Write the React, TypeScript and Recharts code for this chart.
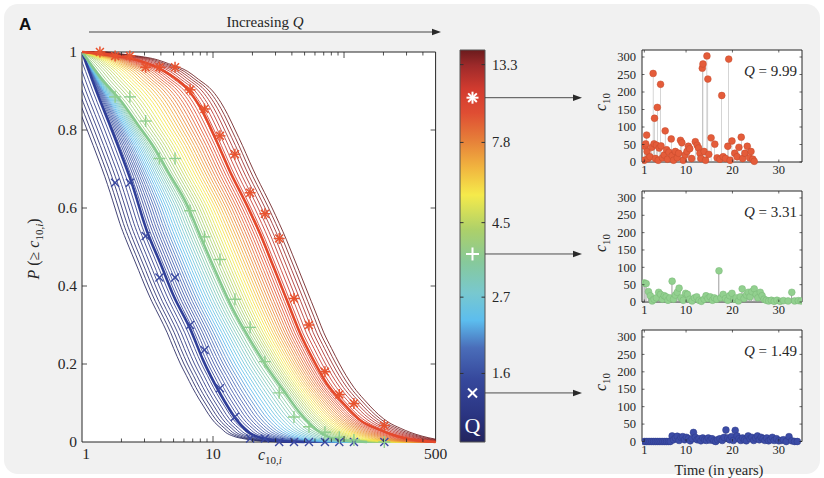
import React from 'react';
import {
  ComposedChart, Line, Scatter, Bar, XAxis, YAxis, CartesianGrid, ReferenceArea, Label,
} from 'recharts';

const SERIF = '"Liberation Serif", "DejaVu Serif", serif';
const INK = '#262626';

// ---- main panel: fitted CCDF curves for the three highlighted Q values ----
const lowCurveX = [1, 1.32, 1.67, 2.0, 2.38, 3.1, 4.0, 5.0, 6.7, 8.4, 11.3, 15.2, 20.2, 30, 50];
const lowCurveP = [1, 0.89, 0.804, 0.736, 0.667, 0.545, 0.455, 0.375, 0.29, 0.21, 0.125, 0.056, 0.018, 0.004, 0];
const midCurveX = [1, 1.4, 2.0, 2.68, 3.59, 4.53, 6.3, 7.95, 10.7, 14.3, 19.2, 25.7, 34.4, 46.2, 62, 93, 150];
const midCurveP = [1, 0.933, 0.873, 0.813, 0.753, 0.693, 0.61, 0.53, 0.43, 0.338, 0.262, 0.193, 0.133, 0.074, 0.031, 0.005, 0];
const highCurveX = [1, 2.25, 4.03, 6.3, 7.95, 10.7, 13.5, 18.1, 22.8, 28.9, 36.6, 46.2, 58.4, 73.8, 98.8, 133, 188, 237, 350, 500];
const highCurveP = [1, 0.985, 0.955, 0.907, 0.86, 0.77, 0.693, 0.608, 0.535, 0.45, 0.364, 0.279, 0.21, 0.15, 0.099, 0.056, 0.031, 0.018, 0.005, 0];

// empirical CCDF markers (shared bins)
const markerX = [1.37, 1.79, 2.32, 3.06, 3.9, 5.13, 6.68, 8.6, 11.3, 14.7, 19.2, 24.9, 32, 41.5, 54, 71.5, 92, 119, 203];
const highMarkerP = [1, 0.99, 0.99, 0.961, 0.961, 0.961, 0.903, 0.854, 0.785, 0.738, 0.639, 0.585, 0.522, 0.368, 0.3, 0.18, 0.122, 0.099, 0.042];
const midMarkerP = [null, 0.885, 0.885, 0.823, 0.727, 0.727, 0.593, 0.526, 0.468, 0.366, 0.294, 0.206, 0.126, 0.064, 0.039, 0.025, 0.012, 0.005, 0];
const lowMarkerP = [null, 0.665, 0.665, 0.528, 0.422, 0.422, 0.3, 0.236, 0.138, 0.065, 0.009, 0.009, 0, 0, 0, 0, 0, 0, 0];

const mainXTicks = [1, 2, 3, 4, 5, 6, 7, 8, 9, 10, 20, 30, 40, 50, 60, 70, 80, 90, 100, 200, 300, 400, 500];
const mainXLabels = [1, 10, 500];
const mainYTicks = [0, 0.2, 0.4, 0.6, 0.8, 1];

// ---- colour bar ----
const colorbarDomain = [1, 14.7];
const colorbarTicks = [1.6, 2.7, 4.5, 7.8, 13.3];
const highlightQ = [10.6, 3.63, 1.4]; // where the three markers sit on the bar
const highlightLabels = ['9.99', '3.31', '1.49'];
const colorStops: [number, string][] = [
  [0.0, '#22245e'], [0.07, '#2b3582'], [0.16, '#36489c'], [0.24, '#4a6db9'],
  [0.31, '#5cbdee'], [0.38, '#78c8cf'], [0.46, '#87c99a'], [0.54, '#acd06a'],
  [0.63, '#f5ea4b'], [0.7, '#f1b53f'], [0.77, '#e67f39'], [0.84, '#df4d33'],
  [0.9, '#d23b2f'], [0.96, '#9e2a2a'], [1.0, '#6b1b1d'],
];
const familySize = 57; // thin curves drawn between the highlighted ones

// ---- c10 time series (year, count) ----
const stemsHigh: [number, number][] = [
  [1.0, 5], [1.1, 45], [1.3, 52], [1.5, 77], [1.6, 30], [1.8, 10], [2.2, 15], [2.6, 42], [2.9, 253],
  [3.1, 52], [3.2, 125], [3.4, 10], [3.6, 48], [3.8, 156], [4.0, 5], [4.2, 40], [4.5, 222], [4.6, 46],
  [4.9, 12], [5.3, 20], [5.5, 89], [5.8, 35], [6.0, 8], [6.3, 28], [6.8, 66], [7.0, 18], [7.3, 5],
  [7.7, 30], [8.1, 12], [8.4, 25], [8.8, 62], [9.1, 55], [9.4, 5], [9.8, 20], [10.2, 30], [10.5, 45],
  [10.8, 38], [11.2, 10], [12.0, 58], [12.4, 48], [12.7, 40], [13.0, 25], [13.2, 10], [13.5, 268],
  [13.65, 280], [13.9, 30], [14.2, 5], [14.5, 303], [14.7, 237], [14.9, 22], [15.4, 69], [16.2, 51],
  [16.7, 12], [17.3, 8], [17.7, 190], [18.0, 15], [18.5, 10], [19.0, 45], [19.2, 294], [19.5, 5],
  [19.9, 60], [20.5, 25], [21.0, 15], [21.4, 42], [21.9, 71], [22.2, 10], [22.7, 25], [23.2, 45],
  [23.7, 12], [24.0, 30], [24.4, 8], [24.7, 2],
];
const stemsMid: [number, number][] = [
  [1.0, 55], [1.4, 53], [1.9, 30], [2.3, 18], [2.7, 3], [3.1, 8], [3.6, 12], [4.1, 28], [4.5, 22],
  [4.9, 8], [5.3, 18], [5.7, 15], [6.1, 5], [6.5, 12], [7.0, 60], [7.3, 8], [7.7, 20], [8.1, 28],
  [8.5, 40], [8.9, 12], [9.4, 5], [9.9, 25], [10.3, 22], [10.8, 8], [11.3, 3], [11.8, 12], [12.3, 15],
  [12.8, 5], [13.3, 2], [13.9, 8], [14.3, 18], [14.7, 10], [15.2, 15], [15.7, 5], [16.1, 12], [16.6, 8],
  [17.1, 90], [17.5, 12], [18.0, 22], [18.5, 10], [19.0, 5], [19.4, 18], [19.9, 25], [20.3, 8],
  [20.8, 12], [21.3, 3], [21.7, 15], [22.1, 38], [22.5, 10], [23.0, 20], [23.4, 28], [23.8, 15],
  [24.2, 30], [24.7, 38], [25.1, 22], [25.5, 12], [26.0, 28], [26.4, 18], [26.8, 8], [27.3, 5],
  [27.8, 3], [28.4, 5], [29.0, 2], [29.6, 5], [30.3, 2], [31.0, 4], [32.0, 3], [32.8, 28], [33.4, 3],
  [34.2, 4], [34.8, 3],
];
const stemsLow: [number, number][] = [
  [1.0, 0], [1.4, 0], [1.8, 0], [2.2, 0], [2.6, 0], [3.0, 0], [3.4, 0], [3.8, 0], [4.2, 0], [4.6, 0],
  [5.0, 0], [5.4, 0], [5.8, 0], [6.2, 0], [6.6, 0], [7.0, 16], [7.3, 5], [7.7, 10], [8.1, 15], [8.5, 3],
  [8.9, 12], [9.3, 14], [9.7, 5], [10.1, 12], [10.5, 8], [10.9, 2], [11.3, 8], [11.6, 26], [12.0, 12],
  [12.4, 5], [12.8, 8], [13.2, 2], [13.6, 10], [14.0, 5], [14.4, 3], [14.8, 10], [15.2, 4], [15.6, 8],
  [16.0, 2], [16.4, 0], [16.8, 5], [17.3, 8], [17.8, 3], [18.2, 12], [18.6, 33], [19.0, 10], [19.4, 5],
  [19.8, 14], [20.2, 3], [20.6, 32], [21.0, 16], [21.4, 8], [21.8, 3], [22.2, 10], [22.6, 5], [23.0, 2],
  [23.4, 16], [23.8, 8], [24.2, 12], [24.6, 3], [25.0, 10], [25.4, 16], [25.8, 5], [26.2, 12], [26.6, 8],
  [27.0, 3], [27.4, 10], [27.8, 2], [28.2, 5], [28.6, 12], [29.0, 3], [29.5, 8], [30.0, 2], [30.5, 3],
  [31.0, 5], [31.6, 0], [32.2, 14], [32.8, 2], [33.4, 0], [34.0, 0],
];
const yearTicks = [1, 10, 20, 30];
const countTicks = [0, 50, 100, 150, 200, 250, 300];

// ---- helpers ----
const hex = (c: string) => [1, 3, 5].map((i) => parseInt(c.slice(i, i + 2), 16));
const colormap = (f: number) => {
  for (let i = 1; i < colorStops.length; i++) {
    const [o1, c1] = colorStops[i];
    if (f <= o1) {
      const [o0, c0] = colorStops[i - 1];
      const t = (f - o0) / (o1 - o0);
      const a = hex(c0), b = hex(c1);
      return `rgb(${a.map((v, k) => Math.round(v + (b[k] - v) * t)).join(',')})`;
    }
  }
  return colorStops[colorStops.length - 1][1];
};
const qFrac = (q: number) => Math.log(q / colorbarDomain[0]) / Math.log(colorbarDomain[1] / colorbarDomain[0]);
const [fHigh, fMid, fLow] = highlightQ.map(qFrac);

const logAt = (xs: number[], ps: number[], p: number) => {
  for (let i = 1; i < xs.length; i++) {
    if (ps[i] <= p) {
      const t = (ps[i - 1] - p) / (ps[i - 1] - ps[i]);
      return Math.log10(xs[i - 1]) + t * (Math.log10(xs[i]) - Math.log10(xs[i - 1]));
    }
  }
  return Math.log10(xs[xs.length - 1]);
};
const levels = [1, 0.995, 0.99, 0.98, 0.97, 0.95, 0.93, 0.9, 0.87, 0.84, 0.8, 0.76, 0.72, 0.68, 0.64, 0.6,
  0.56, 0.52, 0.48, 0.44, 0.4, 0.36, 0.32, 0.28, 0.24, 0.2, 0.17, 0.14, 0.11, 0.09, 0.07, 0.05, 0.035,
  0.025, 0.015, 0.008, 0.003, 0.001, 0];
const EXTRA = 1.5;
const familyCurve = (f: number) => {
  const pts = levels.map((p) => {
    const lb = logAt(lowCurveX, lowCurveP, p);
    const lg = logAt(midCurveX, midCurveP, p);
    const lr = logAt(highCurveX, highCurveP, p);
    let l;
    if (f <= fLow) l = lb + (f - fLow) * EXTRA;
    else if (f <= fMid) l = lb + ((f - fLow) / (fMid - fLow)) * (lg - lb);
    else if (f <= fHigh) l = lg + ((f - fMid) / (fHigh - fMid)) * (lr - lg);
    else l = lr + (f - fHigh) * EXTRA;
    return { x: Math.pow(10, l), p };
  });
  if (pts[0].x > 1) pts.unshift({ x: 1, p: 1 });
  if (pts[pts.length - 1].x < 500) pts.push({ x: 500, p: 0 });
  return pts;
};
const family = Array.from({ length: familySize }, (_, i) => {
  const f = i / (familySize - 1);
  return { f, color: colormap(f), data: familyCurve(f) };
});
const toPts = (xs: number[], ps: (number | null)[]) =>
  xs.map((x, i) => ({ x, p: ps[i] })).filter((d) => d.p !== null);

// ---- marker shapes ----
const crossShape = (color: string, s: number, w: number) => (props: any) => {
  const { cx, cy } = props;
  return (
    <g stroke={color} strokeWidth={w}>
      <line x1={cx - s} y1={cy - s} x2={cx + s} y2={cy + s} />
      <line x1={cx - s} y1={cy + s} x2={cx + s} y2={cy - s} />
    </g>
  );
};
const plusShape = (color: string, s: number, w: number) => (props: any) => {
  const { cx, cy } = props;
  return (
    <g stroke={color} strokeWidth={w}>
      <line x1={cx - s} y1={cy} x2={cx + s} y2={cy} />
      <line x1={cx} y1={cy - s} x2={cx} y2={cy + s} />
    </g>
  );
};
const starShape = (color: string, s: number, w: number) => (props: any) => {
  const { cx, cy } = props;
  const d = s * 0.72;
  return (
    <g stroke={color} strokeWidth={w}>
      <line x1={cx - s} y1={cy} x2={cx + s} y2={cy} />
      <line x1={cx} y1={cy - s} x2={cx} y2={cy + s} />
      <line x1={cx - d} y1={cy - d} x2={cx + d} y2={cy + d} />
      <line x1={cx - d} y1={cy + d} x2={cx + d} y2={cy - d} />
    </g>
  );
};

// ---- main panel ----
// axes get a 1px band (recharts skips drawing an axis of zero size)
const MAIN_W = 450, MAIN_H = 478;
const mainMargin = { top: 52, right: 14.4, bottom: 35, left: 81 };
const mainPlotW = MAIN_W - mainMargin.left - 1 - mainMargin.right;
const mainPlotH = MAIN_H - mainMargin.top - mainMargin.bottom - 1;

const MainXTick = (props: any) => {
  const { x, y, payload } = props;
  const v = payload.value;
  const len = v === 1 || v === 10 || v === 100 ? 6 : 3.5;
  return (
    <g>
      {v < 500 && v > 1 && <line x1={x} x2={x} y1={y} y2={y - len} stroke={INK} strokeWidth={0.8} />}
      {v < 500 && v > 1 && <line x1={x} x2={x} y1={y - mainPlotH} y2={y - mainPlotH + len} stroke={INK} strokeWidth={0.8} />}
      {mainXLabels.includes(v) && (
        <text x={v === 1 ? x + 4 : x} y={y + 17} textAnchor="middle" fontFamily={SERIF} fontSize={15.5} fill={INK}>{v}</text>
      )}
    </g>
  );
};
const MainYTick = (props: any) => {
  const { x, y, payload } = props;
  const v = payload.value;
  return (
    <g>
      {v > 0 && v < 1 && <line x1={x} x2={x + 5} y1={y} y2={y} stroke={INK} strokeWidth={0.8} />}
      {v > 0 && v < 1 && <line x1={x + mainPlotW} x2={x + mainPlotW - 5} y1={y} y2={y} stroke={INK} strokeWidth={0.8} />}
      <text x={x - 5} y={y + 5} textAnchor="end" fontFamily={SERIF} fontSize={15.5} fill={INK}>{String(v)}</text>
    </g>
  );
};

const lowColor = '#2f3e98', midColor = '#86c98e', highColor = '#e4492c';

function MainPanel() {
  return (
    <ComposedChart width={MAIN_W} height={MAIN_H} margin={mainMargin}>
      <CartesianGrid fill="#ffffff" horizontal={false} vertical={false} />
      <XAxis dataKey="x" type="number" scale="log" domain={[1, 500]} allowDataOverflow ticks={mainXTicks}
        interval={0} height={1} tickSize={0} tickMargin={0} tickLine={false} axisLine={false} tick={MainXTick} />
      <YAxis dataKey="p" type="number" domain={[0, 1]} ticks={mainYTicks} interval={0} width={1}
        tickSize={0} tickMargin={0} tickLine={false} axisLine={false} tick={MainYTick} />
      {family.map((c, i) => (
        <Line key={i} data={c.data} dataKey="p" type="monotone" stroke={c.color} strokeWidth={0.85}
          dot={false} activeDot={false} isAnimationActive={false} />
      ))}
      <Line data={toPts(lowCurveX, lowCurveP)} dataKey="p" type="monotone" stroke={lowColor} strokeWidth={2.6}
        dot={false} activeDot={false} isAnimationActive={false} />
      <Line data={toPts(midCurveX, midCurveP)} dataKey="p" type="monotone" stroke={midColor} strokeWidth={2.6}
        dot={false} activeDot={false} isAnimationActive={false} />
      <Line data={toPts(highCurveX, highCurveP)} dataKey="p" type="monotone" stroke={highColor} strokeWidth={2.6}
        dot={false} activeDot={false} isAnimationActive={false} />
      <Scatter data={toPts(markerX, lowMarkerP)} shape={crossShape('#3a48a0', 4, 1.4)} isAnimationActive={false} />
      <Scatter data={toPts(markerX, midMarkerP)} shape={plusShape('#8fcf8f', 6, 1.4)} isAnimationActive={false} />
      <Scatter data={toPts(markerX, highMarkerP)} shape={starShape('#e8532f', 5.5, 1.5)} isAnimationActive={false} />
      <ReferenceArea x1={1} x2={500} y1={0} y2={1} fill="none" stroke={INK} strokeWidth={1} ifOverflow="visible" />
    </ComposedChart>
  );
}

// ---- colour bar ----
const CB_W = 170;
const cbMargin = { top: 50, right: 124, bottom: 36, left: 20 };
const cbBarW = CB_W - cbMargin.left - cbMargin.right - 1;

const ColorbarTick = (props: any) => {
  const { x, y, payload } = props;
  return (
    <g>
      <line x1={x} x2={x - 3.5} y1={y} y2={y} stroke="#333" strokeWidth={1} />
      <line x1={x - cbBarW} x2={x - cbBarW + 3.5} y1={y} y2={y} stroke="#333" strokeWidth={1} />
      <text x={x + 7} y={y + 5} fontFamily={SERIF} fontSize={14.5} fill={INK}>{payload.value.toFixed(1)}</text>
    </g>
  );
};
const cbShapes = [starShape('#ffffff', 6, 2), plusShape('#ffffff', 6.5, 2), crossShape('#ffffff', 4.5, 2)];
const CbMarker = (props: any) => {
  const { cx, cy, payload } = props;
  const x0 = cx + cbBarW / 2;
  const tip = x0 + 97;
  return (
    <g>
      {cbShapes[payload.k](props)}
      <line x1={x0} x2={tip - 6} y1={cy} y2={cy} stroke="#3a3a3a" strokeWidth={0.9} />
      <polygon points={`${tip},${cy} ${tip - 9},${cy - 3.2} ${tip - 9},${cy + 3.2}`} fill="#2a2a2a" />
    </g>
  );
};

function ColorBar() {
  const data = highlightQ.map((q, k) => ({ x: 0.5, q, k }));
  return (
    <ComposedChart width={CB_W} height={MAIN_H} margin={cbMargin}>
      <XAxis dataKey="x" type="number" domain={[0, 1]} hide />
      <YAxis dataKey="q" type="number" scale="log" domain={colorbarDomain} orientation="right" ticks={colorbarTicks}
        interval={0} width={1} tickSize={0} tickMargin={0} tickLine={false} axisLine={false} tick={ColorbarTick} />
      <ReferenceArea x1={0} x2={1} y1={colorbarDomain[0]} y2={colorbarDomain[1]} fill="url(#cbGrad)" fillOpacity={1}
        stroke="#555" strokeWidth={1} ifOverflow="visible">
        <Label value="Q" position="insideBottom" offset={9} fill="#ffffff" fontSize={22} fontFamily={SERIF} />
      </ReferenceArea>
      <Scatter data={data} shape={CbMarker} isAnimationActive={false} />
    </ComposedChart>
  );
}

// ---- stem panels ----
const STEM_W = 210, STEM_H = 145;
const stemMargin = { top: 10, right: 8, left: 41 };
const stemPlotW = STEM_W - stemMargin.left - 1 - stemMargin.right;
const stemPanels = [
  { top: 50, h: 112, rows: stemsHigh, fill: '#e45c3a', edge: '#c44a2c', q: highlightLabels[0] },
  { top: 191, h: 111, rows: stemsMid, fill: '#92d08f', edge: '#78b676', q: highlightLabels[1] },
  { top: 330, h: 111.5, rows: stemsLow, fill: '#3c4ca6', edge: '#2c3a88', q: highlightLabels[2] },
];

function StemPanel({ h, rows, fill, edge }: { h: number; rows: [number, number][]; fill: string; edge: string }) {
  const data = rows.map(([t, c]) => ({ t, c }));
  const XTick = (props: any) => {
    const { x, y, payload } = props;
    return (
      <g>
        <line x1={x} x2={x} y1={y} y2={y - 2.5} stroke={INK} strokeWidth={0.7} />
        <line x1={x} x2={x} y1={y - h} y2={y - h + 2.5} stroke={INK} strokeWidth={0.7} />
        <text x={x} y={y + 12} textAnchor="middle" fontFamily={SERIF} fontSize={12.5} fill={INK}>{payload.value}</text>
      </g>
    );
  };
  const YTick = (props: any) => {
    const { x, y, payload } = props;
    return (
      <g>
        <line x1={x} x2={x + 2.5} y1={y} y2={y} stroke={INK} strokeWidth={0.7} />
        <line x1={x + stemPlotW} x2={x + stemPlotW - 2.5} y1={y} y2={y} stroke={INK} strokeWidth={0.7} />
        <text x={x - 6} y={y + 4.2} textAnchor="end" fontFamily={SERIF} fontSize={12.5} fill={INK}>{payload.value}</text>
      </g>
    );
  };
  const Dot = (props: any) => <circle cx={props.cx} cy={props.cy} r={3.4} fill={fill} stroke={edge} strokeWidth={0.5} />;
  return (
    <ComposedChart width={STEM_W} height={STEM_H} data={data}
      margin={{ ...stemMargin, bottom: STEM_H - stemMargin.top - h - 1 }}>
      <CartesianGrid fill="#ffffff" horizontal={false} vertical={false} />
      <XAxis dataKey="t" type="number" domain={[0.5, 35]} allowDataOverflow ticks={yearTicks} interval={0}
        height={1} tickSize={0} tickMargin={0} tickLine={false} axisLine={false} tick={XTick} />
      <YAxis type="number" domain={[0, 320]} ticks={countTicks} interval={0} width={1}
        tickSize={0} tickMargin={0} tickLine={false} axisLine={false} tick={YTick} />
      <Bar dataKey="c" barSize={1} fill="#9c9c9c" isAnimationActive={false} />
      <Scatter dataKey="c" shape={Dot} isAnimationActive={false} />
      <ReferenceArea x1={0.5} x2={35} y1={0} y2={320} fill="none" stroke={INK} strokeWidth={1} ifOverflow="visible" />
    </ComposedChart>
  );
}

// ---- static lettering and panel ----
function Backdrop() {
  return (
    <svg width={824} height={478} style={{ position: 'absolute', left: 0, top: 0 }}>
      <defs>
        <linearGradient id="cbGrad" x1="0" y1="1" x2="0" y2="0">
          {colorStops.map(([o, c]) => <stop key={o} offset={o} stopColor={c} />)}
        </linearGradient>
      </defs>
      <rect x={4} y={4} width={816} height={470} rx={14} fill="#f1f1f1" />
      <text x={19} y={30} fontFamily='"Liberation Sans", Arial, sans-serif' fontWeight="bold" fontSize={17} fill="#111">A</text>
      <text x={265} y={27} textAnchor="middle" fontFamily={SERIF} fontSize={15} fill={INK}>
        Increasing <tspan fontStyle="italic">Q</tspan>
      </text>
      <line x1={89} y1={32} x2={433} y2={32} stroke="#333" strokeWidth={0.9} />
      <polygon points="441,32 432,28.8 432,35.2" fill="#2a2a2a" />
      <text transform="translate(39,249) rotate(-90)" textAnchor="middle" fontFamily={SERIF} fontSize={16} fill={INK}>
        <tspan fontStyle="italic">P</tspan> (≥ <tspan fontStyle="italic">c</tspan>
        <tspan fontSize={11} dy={4}>10,</tspan><tspan fontSize={11} fontStyle="italic">i</tspan>
        <tspan dy={-4}>)</tspan>
      </text>
      <text x={258} y={460} fontFamily={SERIF} fontSize={16} fill={INK}>
        <tspan fontStyle="italic">c</tspan><tspan fontSize={11} dy={4}>10,</tspan>
        <tspan fontSize={11} fontStyle="italic">i</tspan>
      </text>
      {stemPanels.map((s, i) => (
        <g key={i}>
          <text transform={`translate(606,${s.top + 52}) rotate(-90)`} textAnchor="middle" fontFamily={SERIF}
            fontSize={16} fill={INK}>
            <tspan fontStyle="italic">c</tspan><tspan fontSize={11} dy={4}>10</tspan>
          </text>
        </g>
      ))}
      <text x={719} y={475} textAnchor="middle" fontFamily={SERIF} fontSize={14.5} fill={INK}>Time (in years)</text>
    </svg>
  );
}

export default function App() {
  return (
    <div style={{ position: 'absolute', left: 0, top: 0, width: 824, height: 478, background: '#ffffff' }}>
      <Backdrop />
      <div style={{ position: 'absolute', left: 0, top: 0 }}>
        <MainPanel />
      </div>
      <div style={{ position: 'absolute', left: 440, top: 0 }}>
        <ColorBar />
      </div>
      {stemPanels.map((s, i) => (
        <div key={i} style={{ position: 'absolute', left: 600, top: s.top - stemMargin.top }}>
          <StemPanel h={s.h} rows={s.rows} fill={s.fill} edge={s.edge} />
        </div>
      ))}
      <svg width={824} height={478} style={{ position: 'absolute', left: 0, top: 0, pointerEvents: 'none' }}>
        {stemPanels.map((s, i) => (
          <text key={i} x={797} y={s.top + 26} textAnchor="end" fontFamily={SERIF} fontSize={15} fill={INK}>
            <tspan fontStyle="italic">Q</tspan> = {s.q}
          </text>
        ))}
      </svg>
    </div>
  );
}
